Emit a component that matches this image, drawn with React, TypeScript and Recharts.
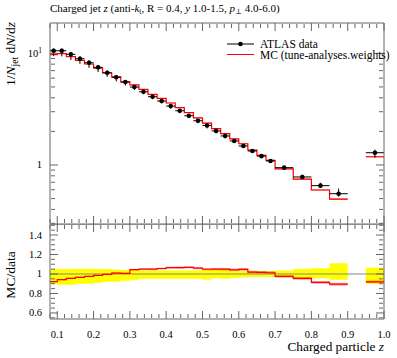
import type { ReactNode } from "react";
import {
  Area,
  ComposedChart,
  ErrorBar,
  Line,
  ReferenceLine,
  Scatter,
  XAxis,
  YAxis,
} from "recharts";

// bins in charged particle z (0.90-0.95 is empty)
const binLow = [
  0.08, 0.1, 0.125, 0.15, 0.175, 0.2, 0.225, 0.25, 0.275, 0.3, 0.325, 0.35,
  0.375, 0.4, 0.425, 0.45, 0.475, 0.5, 0.525, 0.55, 0.575, 0.6, 0.625, 0.65,
  0.675, 0.7, 0.75, 0.8, 0.85, 0.9, 0.95,
];
const binHigh = [...binLow.slice(1), 1.0];

const atlas: (number | null)[] = [
  10.55, 10.55, 9.8, 8.95, 8.24, 7.49, 6.7, 6.1, 5.53, 4.99, 4.53, 4.09, 3.74,
  3.37, 3.06, 2.76, 2.49, 2.26, 2.02, 1.82, 1.64, 1.48, 1.335, 1.2, 1.086,
  0.946, 0.781, 0.653, 0.553, null, 1.288,
];
// relative uncertainties (down / up)
const atlasErrDown = [
  0.1, 0.11, 0.11, 0.1, 0.1, 0.09, 0.08, 0.08, 0.07, 0.06, 0.05, 0.05, 0.05,
  0.05, 0.05, 0.05, 0.05, 0.06, 0.045, 0.05, 0.04, 0.035, 0.03, 0.03, 0.03,
  0.035, 0.04, 0.045, 0.06, 0, 0.1,
];
const atlasErrUp = [
  0.05, 0.05, 0.05, 0.055, 0.055, 0.05, 0.05, 0.045, 0.04, 0.04, 0.035, 0.035,
  0.035, 0.035, 0.035, 0.035, 0.035, 0.04, 0.04, 0.04, 0.03, 0.03, 0.03, 0.03,
  0.03, 0.035, 0.05, 0.06, 0.11, 0, 0.065,
];

const mc: (number | null)[] = [
  9.72, 9.94, 9.36, 8.64, 8.03, 7.38, 6.67, 6.16, 5.56, 5.21, 4.76, 4.29, 3.95,
  3.59, 3.26, 2.95, 2.64, 2.37, 2.12, 1.91, 1.71, 1.55, 1.36, 1.22, 1.1, 0.922,
  0.746, 0.597, 0.495, null, 1.185,
];
const mcErr = [
  0.006, 0.006, 0.006, 0.006, 0.006, 0.007, 0.007, 0.007, 0.008, 0.008, 0.008,
  0.009, 0.009, 0.009, 0.01, 0.01, 0.01, 0.011, 0.011, 0.012, 0.012, 0.013,
  0.013, 0.014, 0.014, 0.012, 0.014, 0.016, 0.018, 0, 0.014,
];

const xMajor = [0.1, 0.2, 0.3, 0.4, 0.5, 0.6, 0.7, 0.8, 0.9, 1.0];
const logTicks = [
  0.3, 0.4, 0.5, 0.6, 0.7, 0.8, 0.9, 1, 2, 3, 4, 5, 6, 7, 8, 9, 10,
];
const logMajor = [1, 10];
const ratioMajor = [0.6, 0.8, 1, 1.2, 1.4];

const near = (v: number, list: number[]) =>
  list.some((t) => Math.abs(t - v) < 1e-6);

const xTicks: number[] = [];
for (let i = 4; i <= 50; i++) xTicks.push(+(i * 0.02).toFixed(2));
const ratioTicks: number[] = [];
for (let i = 11; i <= 30; i++) ratioTicks.push(+(i * 0.05).toFixed(2));
const xMinor = xTicks.filter((t) => !near(t, xMajor));
const logMinor = logTicks.filter((t) => !near(t, logMajor));
const ratioMinor = ratioTicks.filter((t) => !near(t, ratioMajor));

type Row = { x: number; y?: number | null; band?: [number, number] | null };

const mainHist: Row[] = [];
const ratioHist: Row[] = [];
const dataBand: Row[] = [];
binLow.forEach((lo, i) => {
  const hi = binHigh[i];
  const d = atlas[i];
  const m = mc[i];
  if (d == null || m == null) {
    mainHist.push({ x: lo, y: null, band: null });
    ratioHist.push({ x: lo, y: null, band: null });
    dataBand.push({ x: lo, band: null });
    return;
  }
  const mb: [number, number] = [m * (1 - mcErr[i]), m * (1 + mcErr[i])];
  mainHist.push({ x: lo, y: m, band: mb }, { x: hi, y: m, band: mb });
  const r = m / d;
  const rb: [number, number] = [r * (1 - mcErr[i]), r * (1 + mcErr[i])];
  ratioHist.push({ x: lo, y: r, band: rb }, { x: hi, y: r, band: rb });
  const db: [number, number] = [1 - atlasErrDown[i], 1 + atlasErrUp[i]];
  dataBand.push({ x: lo, band: db }, { x: hi, band: db });
});

const atlasPts = binLow.flatMap((lo, i) => {
  const v = atlas[i];
  if (v == null) return [];
  const hi = binHigh[i];
  return [
    {
      x: (lo + hi) / 2,
      y: v,
      xErr: (hi - lo) / 2,
      yErr: [v * atlasErrDown[i], v * atlasErrUp[i]],
    },
  ];
});

const FONT = "'Liberation Serif', 'DejaVu Serif', serif";
const FRAME = "#666";
const RED = "#ff0000";
const MAJ = 8;
const MIN = 4;
const X_DOMAIN: [number, number] = [0.08, 1.0];
const LOG_DOMAIN: [number, number] = [0.296, 18.7];
const RATIO_DOMAIN: [number, number] = [0.538, 1.513];

// tick renderer that draws no label (a falsy tick would drop the tick lines too)
const noLabel = () => <g />;

// inward tick marks + frame: mirrored 1px axes on all four sides
function frameAxes(
  yDomain: [number, number],
  yScale: "log" | "linear",
  yMaj: number[],
  yMin: number[],
) {
  const tl = { stroke: FRAME, strokeWidth: 1 };
  const out: ReactNode[] = [];
  (
    [
      ["bottom", xMajor, MAJ],
      ["bottom", xMinor, MIN],
      ["top", xMajor, MAJ],
      ["top", xMinor, MIN],
    ] as const
  ).forEach(([o, t, s], i) =>
    out.push(
      <XAxis
        key={`fx${i}`}
        xAxisId={`fx${i}`}
        orientation={o}
        mirror
        type="number"
        dataKey="x"
        domain={X_DOMAIN}
        allowDataOverflow
        ticks={t as number[]}
        interval={0}
        height={1}
        tickSize={s}
        tick={noLabel}
        tickLine={tl}
        axisLine={s === MAJ ? tl : false}
      />,
    ),
  );
  (
    [
      ["left", yMaj, MAJ],
      ["left", yMin, MIN],
      ["right", yMaj, MAJ],
      ["right", yMin, MIN],
    ] as const
  ).forEach(([o, t, s], i) =>
    out.push(
      <YAxis
        key={`fy${i}`}
        yAxisId={`fy${i}`}
        orientation={o}
        mirror
        type="number"
        scale={yScale}
        domain={yDomain}
        allowDataOverflow
        ticks={t as number[]}
        interval={0}
        width={1}
        tickSize={s}
        tick={noLabel}
        tickLine={tl}
        axisLine={s === MAJ ? tl : false}
      />,
    ),
  );
  return out;
}

const leftLabel = (fmt: (v: number) => ReactNode) => (p: any) => (
  <text
    x={Number(p.x)}
    y={Number(p.y) + 3.5}
    textAnchor="end"
    fontFamily={FONT}
    fontSize={10.5}
    fill="#000"
  >
    {fmt(p.payload.value)}
  </text>
);
const bottomLabel = (fmt: (v: number) => ReactNode) => (p: any) => (
  <text
    x={Number(p.x)}
    y={Number(p.y) + 8}
    textAnchor="middle"
    fontFamily={FONT}
    fontSize={10.5}
    fill="#000"
  >
    {fmt(p.payload.value)}
  </text>
);

const logLabel = (v: number) =>
  v === 10 ? (
    <>
      10<tspan dy={-4} fontSize={7.5}>1</tspan>
    </>
  ) : (
    "1"
  );
const ratioLabel = (v: number) => (v === 1 ? "1" : v.toFixed(1));
const xLabel = (v: number) => v.toFixed(1);

const dot = (p: any) => <circle cx={p.cx} cy={p.cy} r={2.3} fill="#000" />;

export default function App() {
  return (
    <div
      style={{
        position: "absolute",
        left: 0,
        top: 0,
        width: 397,
        height: 358,
        background: "#fff",
      }}
    >
      <div style={{ position: "absolute", left: 0, top: 0 }}>
        <ComposedChart
          width={397}
          height={226}
          margin={{ top: 23, right: 13, bottom: 2, left: 6 }}
        >
          <XAxis
            xAxisId="b"
            dataKey="x"
            type="number"
            domain={X_DOMAIN}
            allowDataOverflow
            hide
          />
          <YAxis
            yAxisId="l"
            type="number"
            scale="log"
            domain={LOG_DOMAIN}
            allowDataOverflow
            ticks={logMajor}
            interval={0}
            width={44}
            tickSize={0}
            tickMargin={8}
            tickLine={false}
            axisLine={false}
            tick={leftLabel(logLabel)}
          />
          {frameAxes(LOG_DOMAIN, "log", logMajor, logMinor)}
          <Area
            xAxisId="b"
            yAxisId="l"
            data={mainHist}
            dataKey="band"
            type="linear"
            stroke="none"
            fill={RED}
            fillOpacity={0.35}
            isAnimationActive={false}
          />
          <Line
            xAxisId="b"
            yAxisId="l"
            data={mainHist}
            dataKey="y"
            type="linear"
            stroke={RED}
            strokeWidth={1.2}
            dot={false}
            activeDot={false}
            isAnimationActive={false}
          />
          <Scatter
            xAxisId="b"
            yAxisId="l"
            data={atlasPts}
            dataKey="y"
            shape={dot}
            isAnimationActive={false}
          >
            <ErrorBar dataKey="yErr" direction="y" width={0} stroke="#000" strokeWidth={1} />
            <ErrorBar dataKey="xErr" direction="x" width={0} stroke="#000" strokeWidth={1} />
          </Scatter>
        </ComposedChart>
      </div>

      <div style={{ position: "absolute", left: 0, top: 224 }}>
        <ComposedChart
          width={397}
          height={134}
          margin={{ top: 0, right: 13, bottom: 0, left: 6 }}
        >
          <XAxis
            xAxisId="b"
            dataKey="x"
            type="number"
            domain={X_DOMAIN}
            allowDataOverflow
            ticks={xMajor}
            interval={0}
            height={39}
            tickSize={0}
            tickMargin={11}
            tickLine={false}
            axisLine={false}
            tick={bottomLabel(xLabel)}
          />
          <YAxis
            yAxisId="l"
            type="number"
            domain={RATIO_DOMAIN}
            allowDataOverflow
            ticks={ratioMajor}
            interval={0}
            width={44}
            tickSize={0}
            tickMargin={8}
            tickLine={false}
            axisLine={false}
            tick={leftLabel(ratioLabel)}
          />
          {frameAxes(RATIO_DOMAIN, "linear", ratioMajor, ratioMinor)}
          <Area
            xAxisId="b"
            yAxisId="l"
            data={dataBand}
            dataKey="band"
            type="linear"
            stroke="none"
            fill="#ffff00"
            fillOpacity={1}
            isAnimationActive={false}
          />
          <ReferenceLine xAxisId="b" yAxisId="l" y={1} stroke="#888" strokeWidth={1} />
          <Area
            xAxisId="b"
            yAxisId="l"
            data={ratioHist}
            dataKey="band"
            type="linear"
            stroke="none"
            fill={RED}
            fillOpacity={0.35}
            isAnimationActive={false}
          />
          <Line
            xAxisId="b"
            yAxisId="l"
            data={ratioHist}
            dataKey="y"
            type="linear"
            stroke={RED}
            strokeWidth={1.2}
            dot={false}
            activeDot={false}
            isAnimationActive={false}
          />
        </ComposedChart>
      </div>

      <svg
        width={397}
        height={358}
        style={{ position: "absolute", left: 0, top: 0, pointerEvents: "none" }}
        fontFamily={FONT}
        fontSize={11}
      >
        <text x={50} y={12}>
          Charged jet <tspan fontStyle="italic">z</tspan> (anti-
          <tspan fontStyle="italic">k</tspan>
          <tspan fontSize={7.5} dy={2}>t</tspan>
          <tspan dy={-2}>, R = 0.4, </tspan>
          <tspan fontStyle="italic">y</tspan> 1.0-1.5,{" "}
          <tspan fontStyle="italic">p</tspan>
          <tspan fontSize={7.5} dy={2}>⊥</tspan>
          <tspan dy={-2}> 4.0-6.0)</tspan>
        </text>
        <text transform="translate(15,22) rotate(-90)" textAnchor="end" fontSize={13.5}>
          1/<tspan fontStyle="italic">N</tspan>
          <tspan fontSize={9.5} dy={2.5}>jet</tspan>
          <tspan dy={-2.5}> d</tspan>
          <tspan fontStyle="italic">N</tspan>/d<tspan fontStyle="italic">z</tspan>
        </text>
        <text transform="translate(15,275) rotate(-90)" textAnchor="middle" fontSize={13.5}>
          MC/data
        </text>
        <text x={384} y={351} textAnchor="end" fontSize={13.3}>
          Charged particle <tspan fontStyle="italic">z</tspan>
        </text>
        <line x1={227} x2={254} y1={44} y2={44} stroke="#000" strokeWidth={1} />
        <circle cx={240.5} cy={44} r={2.3} fill="#000" />
        <text x={260} y={48} fontSize={11.5}>ATLAS data</text>
        <line x1={227} x2={254} y1={54.5} y2={54.5} stroke={RED} strokeWidth={1} />
        <text x={260} y={58.5} fontSize={11.5}>MC (tune-analyses.weights)</text>
      </svg>
    </div>
  );
}
